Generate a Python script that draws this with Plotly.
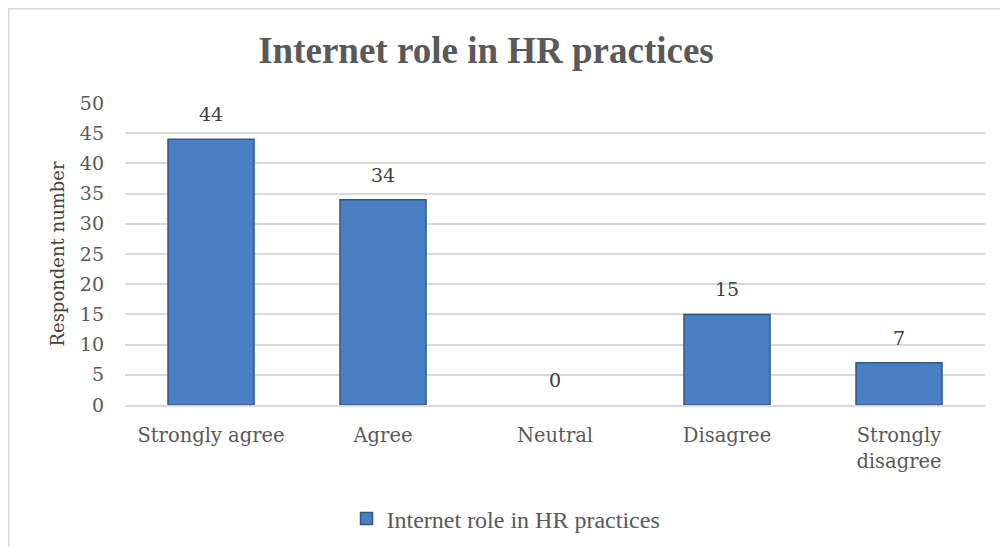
import plotly.graph_objects as go

categories = ["Strongly agree", "Agree", "Neutral", "Disagree", "Strongly<br>disagree"]
values = [44, 34, 0, 15, 7]
series_name = "Internet role in HR practices"
y_ticks = [0, 5, 10, 15, 20, 25, 30, 35, 40, 45, 50]

# page has an 8px body margin; figure coordinates below are relative to the figure
W, H = 1008, 547
ml, mr, mt, mb = 117, 31, 95, 150
pw, ph = W - ml - mr, H - mt - mb

def px_x(x):
    return (x - ml) / pw

def px_y(y):
    return (H - mb - y) / ph

fig = go.Figure()
fig.add_trace(go.Bar(
    x=categories, y=values, name=series_name,
    marker=dict(color="#4a7fc4",
                line=dict(color="#2f5685", width=[1.5 if v > 0 else 0 for v in values])),
    showlegend=True,
))

for c, v in zip(categories, values):
    fig.add_annotation(x=c, y=v, text=str(v), showarrow=False, yanchor="middle",
                       yshift=25, font=dict(family="DejaVu Serif", size=19, color="#404040"))

fig.update_layout(
    width=W, height=H,
    margin=dict(l=ml, r=mr, t=mt, b=mb),
    paper_bgcolor="white", plot_bgcolor="white",
    bargap=0.5,
    title=dict(text="<b>Internet role in HR practices</b>", x=478 / W, xanchor="center",
               y=1 - 42 / H, yanchor="middle",
               font=dict(family="Liberation Serif", size=37, color="#595959")),
    xaxis=dict(showgrid=False, showline=True, linecolor="#d9d9d9", linewidth=1.5,
               tickfont=dict(family="DejaVu Serif", size=19.5, color="#595959"),
               ticks="", ticklabelstandoff=12),
    yaxis=dict(range=[0, 50], tickvals=y_ticks, showgrid=True, gridcolor="#d9d9d9",
               gridwidth=1.5, zeroline=False, showline=False,
               tickfont=dict(family="DejaVu Serif", size=19, color="#595959"),
               ticklabelstandoff=20,
               title=dict(text="Respondent number", standoff=10,
                          font=dict(family="DejaVu Serif", size=18, color="#404040"))),
    legend=dict(orientation="h", x=498 / W, xanchor="center", xref="container",
                y=1 - 511 / H, yref="container", yanchor="middle",
                font=dict(family="Liberation Serif", size=24, color="#595959"),
                itemwidth=30),
    shapes=[dict(type="rect", xref="paper", yref="paper",
                 x0=px_x(0.75), x1=px_x(1020), y0=px_y(560), y1=px_y(0.75),
                 line=dict(color="#d9d9d9", width=1.5), fillcolor="rgba(0,0,0,0)", layer="below")],
)

fig.write_html("out.html")
